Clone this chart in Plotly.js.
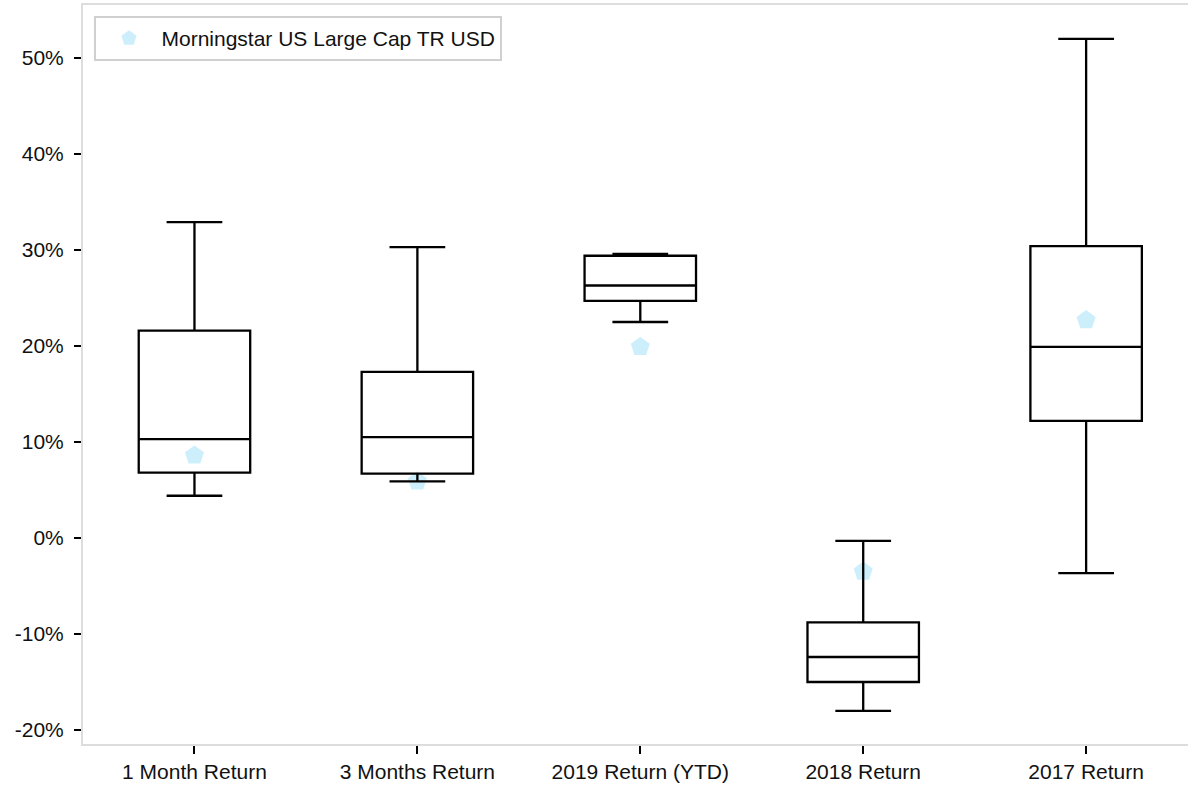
<!DOCTYPE html>
<html>
<head>
<meta charset="utf-8">
<script src="https://cdn.plot.ly/plotly-3.0.1.min.js"></script>
<style>html,body{margin:0;padding:0;background:#fff;}#chart{width:1188px;height:787px;}</style>
</head>
<body>
<div id="chart"></div>
<script>
const categories = ["1 Month Return", "3 Months Return", "2019 Return (YTD)", "2018 Return", "2017 Return"];
const lowerWhisker = [4.4, 5.9, 22.5, -18.0, -3.65];
const q1Values = [6.8, 6.7, 24.7, -15.0, 12.2];
const medianValues = [10.3, 10.5, 26.3, -12.4, 19.9];
const q3Values = [21.6, 17.3, 29.4, -8.8, 30.4];
const upperWhisker = [32.9, 30.3, 29.6, -0.3, 52.0];
const benchmarkName = "Morningstar US Large Cap TR USD";
const benchmarkValues = [8.6, 5.9, 19.9, -3.5, 22.7];
const yTickValues = [-20, -10, 0, 10, 20, 30, 40, 50];
const yTickLabels = ["-20%", "-10%", "0%", "10%", "20%", "30%", "40%", "50%"];

const font = {family: "Liberation Sans, Arial, sans-serif", size: 21, color: "#111"};
const xRange = [-0.5, 4.457];
const yRange = [-21.46, 55.52];

const traces = [
  {
    type: "scatter", mode: "markers", name: benchmarkName,
    x: categories, y: benchmarkValues, xaxis: "x", yaxis: "y",
    marker: {symbol: "pentagon", size: 20, color: "#cdeffc", line: {width: 0}},
    showlegend: true
  },
  {
    type: "box", name: "Distribution", x: categories,
    q1: q1Values, median: medianValues, q3: q3Values,
    lowerfence: lowerWhisker, upperfence: upperWhisker,
    xaxis: "x2", yaxis: "y2",
    boxpoints: false, width: 0.5, whiskerwidth: 0.5,
    fillcolor: "rgba(255,255,255,0)", line: {color: "#000", width: 2.3},
    showlegend: false, hoverinfo: "skip"
  }
];

const layout = {
  width: 1188, height: 787,
  margin: {l: 82.5, r: 0, t: 5, b: 43, pad: 0},
  paper_bgcolor: "#fff", plot_bgcolor: "#fff",
  font: font,
  showlegend: true,
  legend: {
    x: 0.0104, y: 0.985, xanchor: "left", yanchor: "top",
    bgcolor: "#fff", bordercolor: "#d0d0d0", borderwidth: 2,
    font: font, itemwidth: 55, tracegroupgap: 0
  },
  xaxis: {
    type: "category", categoryorder: "array", categoryarray: categories,
    range: xRange, showgrid: false, zeroline: false,
    showline: true, linecolor: "#dddddd", linewidth: 2, mirror: true,
    ticks: "outside", ticklen: 8, tickwidth: 2, tickcolor: "#000",
    tickfont: font, fixedrange: true
  },
  yaxis: {
    range: yRange, tickmode: "array", tickvals: yTickValues, ticktext: yTickLabels,
    showgrid: false, zeroline: false,
    showline: true, linecolor: "#dddddd", linewidth: 2,
    ticks: "outside", ticklen: 7, tickwidth: 2, tickcolor: "#000",
    ticklabelstandoff: 6,
    tickfont: font, fixedrange: true
  },
  xaxis2: {
    type: "category", categoryorder: "array", categoryarray: categories,
    overlaying: "x", range: xRange, visible: false, fixedrange: true
  },
  yaxis2: {
    overlaying: "y", range: yRange, visible: false, fixedrange: true
  }
};

Plotly.newPlot("chart", traces, layout, {displayModeBar: false, staticPlot: true});
</script>
</body>
</html>
